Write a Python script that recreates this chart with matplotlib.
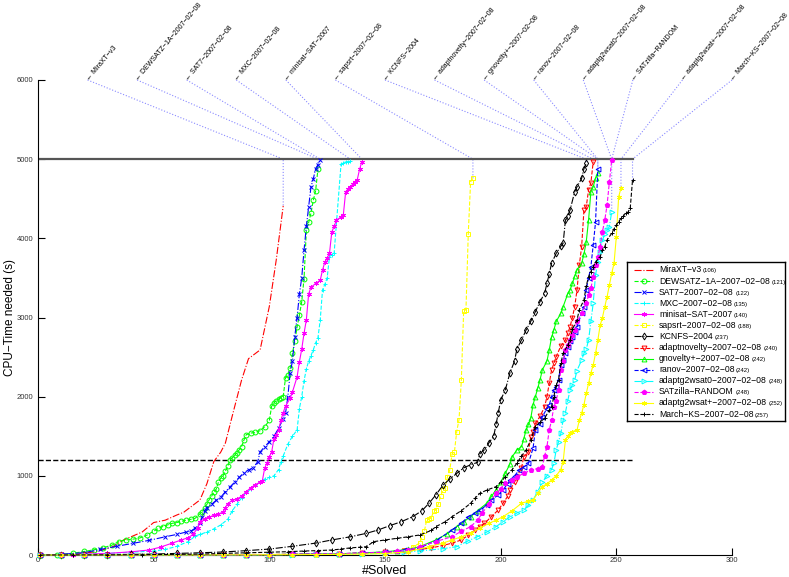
import numpy as np
import matplotlib.pyplot as plt

plt.rcParams['font.family'] = ['Liberation Sans', 'DejaVu Sans']

names = ['MiraXT-v3', 'DEWSATZ-1A-2007-02-08', 'SAT7-2007-02-08', 'MXC-2007-02-08',
         'minisat-SAT-2007', 'sapsrt-2007-02-08', 'KCNFS-2004', 'adaptnovelty-2007-02-08',
         'gnovelty+-2007-02-08', 'ranov-2007-02-08', 'adaptg2wsat0-2007-02-08',
         'SATzilla-RANDOM', 'adaptg2wsat+-2007-02-08', 'March-KS-2007-02-08']
solved = [106, 121, 122, 135, 140, 188, 237, 240, 242, 242, 248, 248, 252, 257]

# (#solved, cpu time)
mira_x = [1, 15, 25, 32, 37, 45, 50, 55, 60, 63, 70, 73, 76, 79, 81, 84, 88, 91, 96, 100, 103, 106]
mira_t = [0, 10, 40, 100, 190, 290, 410, 440, 505, 540, 695, 900, 1180, 1300, 1414, 1760, 2210,
          2480, 2590, 3140, 3730, 4410]

dews_x = [1, 8, 15, 20, 24, 28, 32, 35, 38, 41, 44, 47, 50, 52, 54, 56, 58, 60, 62, 64, 66, 68, 70,
          71, 72, 73, 74, 75, 76, 77, 78, 79, 80, 81, 82, 83, 84, 85, 86, 87, 88, 89, 90, 92, 94, 96,
          98, 100, 101, 102, 103, 104, 105, 106, 107, 108, 109, 110, 111, 112, 113, 114, 115, 116,
          117, 118, 119, 120, 121]
dews_t = [0, 5, 20, 45, 65, 90, 125, 170, 190, 200, 215, 250, 300, 335, 360, 380, 400, 410, 425,
          440, 450, 465, 520, 545, 600, 640, 700, 740, 790, 830, 920, 970, 1000, 1060, 1120, 1200,
          1230, 1260, 1290, 1330, 1370, 1450, 1520, 1540, 1550, 1570, 1620, 1700, 1880, 1920, 1950,
          1970, 1985, 2000, 2240, 2270, 2360, 2550, 2700, 2880, 3030, 3200, 3490, 4100, 4200, 4320,
          4480, 4600, 4870]

sat7_x = [1, 10, 20, 27, 34, 41, 48, 55, 60, 64, 66, 68, 70, 71, 72, 73, 75, 77, 79, 81, 83, 85,
          87, 89, 91, 93, 95, 96, 98, 100, 102, 104, 106, 107, 108, 109, 110, 111, 112, 113, 114,
          115, 116, 117, 118, 119, 120, 121, 122]
sat7_t = [0, 8, 30, 70, 110, 147, 185, 230, 260, 290, 300, 340, 400, 480, 560, 600, 640, 690, 730,
          800, 860, 920, 980, 1040, 1075, 1100, 1180, 1300, 1370, 1430, 1500, 1600, 1720, 1790,
          2000, 2300, 2450, 2760, 3000, 3300, 3500, 3850, 4150, 4400, 4650, 4750, 4880, 4930, 4990]

mxc_x = [1, 15, 30, 40, 50, 55, 60, 65, 68, 70, 73, 76, 79, 82, 84, 86, 88, 90, 92, 94, 96, 98,
         100, 102, 104, 105, 106, 108, 110, 112, 113, 114, 115, 116, 117, 118, 119, 120, 121, 122,
         123, 124, 125, 126, 127, 128, 131, 132, 133, 134, 135]
mxc_t = [0, 5, 20, 35, 50, 70, 110, 170, 240, 260, 290, 330, 380, 450, 560, 640, 720, 790, 830,
         880, 920, 960, 980, 1000, 1080, 1180, 1250, 1400, 1500, 1580, 1850, 2000, 2200, 2350,
         2450, 2520, 2590, 2680, 2740, 2970, 3350, 3420, 3500, 3770, 3790, 3810, 4940, 4955, 4965,
         4970, 4975]

mini_x = [1, 15, 30, 40, 48, 53, 58, 62, 65, 67, 69, 70, 72, 74, 76, 78, 80, 81, 82, 84, 86, 88,
          90, 92, 94, 96, 97, 98, 99, 100, 101, 102, 103, 104, 105, 106, 107, 109, 110, 112, 113,
          114, 115, 116, 117, 118, 120, 122, 123, 124, 125, 126, 127, 128, 129, 131, 132, 133, 134,
          135, 136, 137, 138, 139, 140]
mini_t = [0, 5, 20, 40, 63, 100, 150, 190, 220, 260, 340, 420, 460, 480, 500, 520, 540, 600, 650,
          690, 710, 740, 800, 850, 890, 920, 940, 1100, 1160, 1240, 1300, 1470, 1520, 1580, 1700,
          1800, 1880, 1980, 2060, 2250, 2440, 2600, 2800, 2970, 3300, 3380, 3430, 3470, 3600, 3700,
          3750, 3810, 4080, 4150, 4230, 4270, 4300, 4590, 4620, 4650, 4680, 4715, 4740, 4870, 4970]

saps_x = [1, 10, 20, 30, 40, 50, 60, 70, 80, 90, 100, 110, 120, 130, 140, 150, 158, 162, 165, 166,
          167, 168, 169, 170, 171, 172, 173, 174, 175, 176, 177, 178, 179, 180, 181, 182, 183, 184,
          185, 186, 187, 188]
saps_t = [0, 1, 1, 1, 2, 3, 4, 5, 6, 7, 8, 10, 12, 15, 20, 30, 60, 100, 150, 230, 300, 440, 450,
          470, 550, 570, 640, 740, 820, 850, 990, 1074, 1280, 1300, 1560, 1710, 2210, 3080, 3100,
          4060, 4715, 4757]

kcnfs_x = [1, 10, 20, 30, 40, 50, 60, 70, 80, 90, 100, 110, 120, 127, 135, 142, 147, 152, 157, 162,
           166, 169, 172, 175, 178, 181, 184, 187, 190, 191, 193, 195, 197, 198, 199, 200, 202, 204,
           206, 207, 209, 211, 213, 215, 217, 219, 220, 221, 222, 224, 226, 227, 228, 229, 230, 232,
           233, 235, 236, 237]
kcnfs_t = [0, 2, 3, 5, 8, 12, 20, 28, 38, 55, 75, 110, 150, 190, 230, 274, 316, 370, 420, 484, 560,
           653, 760, 880, 960, 1030, 1100, 1140, 1170, 1280, 1330, 1420, 1500, 1650, 1800, 1958,
           2084, 2300, 2450, 2600, 2716, 2842, 2950, 3073, 3200, 3305, 3431, 3550, 3684, 3810, 3900,
           3937, 4231, 4280, 4357, 4589, 4650, 4757, 4880, 4947]

anov_x = [1, 10, 20, 30, 40, 50, 60, 70, 80, 90, 100, 110, 120, 130, 140, 150, 158, 165, 170, 175,
          179, 183, 186, 189, 191, 193, 196, 199, 201, 203, 204, 206, 207, 209, 210, 212, 213, 214,
          215, 217, 219, 220, 221, 222, 223, 224, 226, 228, 229, 230, 231, 232, 233, 234, 235, 236,
          237, 238, 239, 240]
anov_t = [0, 1, 1, 1, 1, 2, 2, 3, 3, 4, 5, 8, 12, 15, 25, 35, 50, 70, 90, 120, 150, 190, 250, 316,
          360, 400, 484, 570, 653, 740, 821, 920, 989, 1100, 1242, 1300, 1494, 1550, 1663, 1750,
          1873, 2000, 2168, 2337, 2420, 2505, 2640, 2715, 2800, 2884, 3000, 3136, 3347, 3663, 3894,
          4357, 4400, 4610, 4700, 4968]

gnov_x = [1, 10, 20, 30, 40, 50, 60, 70, 80, 90, 100, 110, 120, 130, 140, 150, 155, 160, 165, 172,
          177, 181, 184, 187, 190, 194, 196, 198, 200, 202, 204, 205, 207, 209, 210, 211, 212, 213,
          214, 215, 216, 217, 218, 220, 221, 222, 223, 224, 226, 227, 229, 230, 231, 232, 233, 235,
          236, 237, 238, 239, 240, 241, 242]
gnov_t = [0, 1, 1, 1, 1, 2, 2, 3, 3, 4, 5, 8, 12, 16, 25, 40, 55, 70, 105, 190, 270, 358, 420, 484,
          560, 653, 740, 821, 920, 1032, 1150, 1242, 1326, 1368, 1470, 1579, 1650, 1726, 1900, 2000,
          2105, 2210, 2337, 2450, 2589, 2750, 2842, 2950, 3052, 3136, 3300, 3347, 3431, 3520, 3600,
          3684, 3800, 3957, 4231, 4589, 4650, 4757, 4820]

ranov_x = [1, 10, 20, 30, 40, 50, 60, 70, 80, 90, 100, 110, 120, 130, 140, 150, 158, 165, 172, 179,
           183, 186, 189, 191, 194, 196, 199, 201, 203, 204, 206, 208, 210, 212, 214, 215, 217, 218,
           220, 221, 222, 223, 224, 225, 226, 227, 228, 229, 230, 231, 232, 233, 235, 236, 237, 238,
           239, 240, 241, 242]
ranov_t = [0, 1, 1, 1, 1, 2, 2, 3, 3, 4, 5, 8, 12, 15, 25, 35, 60, 90, 180, 316, 400, 484, 530,
           568, 630, 695, 760, 821, 900, 947, 1000, 1074, 1110, 1158, 1350, 1579, 1650, 1747, 1850,
           1895, 2000, 2084, 2126, 2210, 2400, 2463, 2550, 2631, 2700, 2757, 2820, 2884, 3052, 3136,
           3347, 3500, 3641, 3915, 4200, 4870]

ag0_x = [1, 10, 20, 30, 40, 50, 60, 70, 80, 90, 100, 110, 120, 130, 140, 150, 158, 165, 175, 181,
         186, 190, 194, 198, 201, 204, 207, 210, 212, 214, 216, 218, 220, 222, 223, 224, 225, 226,
         227, 228, 229, 230, 231, 232, 233, 235, 236, 237, 238, 239, 240, 241, 242, 243, 244, 245,
         246, 247, 248]
ag0_t = [0, 0, 1, 1, 1, 1, 1, 2, 2, 2, 3, 5, 7, 10, 15, 20, 35, 50, 80, 105, 180, 232, 290, 358,
         420, 484, 530, 568, 630, 695, 800, 920, 1000, 1080, 1158, 1326, 1430, 1537, 1700, 1800,
         1950, 2084, 2150, 2210, 2330, 2463, 2547, 2600, 2715, 2950, 3179, 3536, 3700, 3831, 3978,
         4050, 4105, 4147, 4336]

zilla_x = [1, 10, 20, 30, 40, 50, 60, 70, 80, 90, 100, 110, 120, 130, 140, 150, 155, 160, 165, 172,
           179, 183, 187, 190, 192, 195, 198, 200, 202, 205, 207, 210, 213, 216, 218, 219, 220, 221,
           222, 223, 224, 225, 226, 227, 228, 229, 230, 231, 232, 233, 235, 237, 238, 239, 240, 241,
           242, 243, 244, 245, 246, 247, 248]
zilla_t = [0, 1, 1, 1, 1, 2, 2, 3, 3, 4, 5, 8, 12, 16, 25, 35, 45, 60, 105, 170, 232, 300, 358, 440,
           527, 650, 779, 840, 905, 950, 989, 1030, 1074, 1090, 1116, 1250, 1368, 1579, 1700, 1873,
           1950, 2084, 2337, 2450, 2589, 2650, 2715, 2780, 2842, 2950, 3052, 3179, 3280, 3368, 3515,
           3663, 3768, 3894, 4084, 4231, 4420, 4715, 4989]

agp_x = [1, 10, 20, 30, 40, 50, 60, 70, 80, 90, 100, 110, 120, 130, 140, 150, 160, 169, 175, 179,
         183, 187, 191, 195, 198, 201, 205, 209, 212, 214, 216, 218, 220, 222, 224, 226, 227, 228,
         229, 230, 231, 233, 234, 235, 236, 237, 238, 239, 240, 241, 242, 243, 244, 245, 246, 247,
         248, 249, 250, 251, 252]
agp_t = [0, 0, 1, 1, 1, 1, 1, 1, 2, 2, 3, 4, 6, 8, 12, 18, 40, 105, 150, 190, 230, 274, 340, 400,
         440, 484, 560, 653, 680, 695, 780, 863, 900, 947, 1000, 1080, 1180, 1452, 1500, 1537, 1560,
         1579, 1700, 1790, 1900, 2042, 2168, 2300, 2400, 2547, 2715, 2900, 3000, 3136, 3263, 3410,
         3557, 3684, 4020, 4526, 4631]

march_x = [1, 15, 30, 45, 60, 70, 80, 90, 100, 108, 115, 121, 127, 131, 135, 139, 142, 145, 150,
           155, 160, 165, 170, 172, 176, 179, 183, 187, 189, 191, 194, 198, 200, 202, 205, 207, 209,
           211, 213, 215, 217, 219, 221, 222, 223, 224, 225, 226, 227, 229, 230, 231, 233, 234, 236,
           237, 238, 239, 240, 241, 243, 244, 245, 246, 248, 249, 250, 251, 252, 253, 254, 255, 256,
           257]
march_t = [0, 1, 2, 4, 8, 12, 20, 28, 35, 42, 50, 56, 63, 75, 90, 98, 105, 168, 190, 210, 230, 253,
           310, 358, 420, 484, 560, 653, 720, 779, 820, 863, 920, 989, 1080, 1158, 1250, 1326, 1452,
           1621, 1680, 1726, 1831, 1873, 2000, 2150, 2210, 2421, 2547, 2650, 2716, 2850, 2968, 3100,
           3221, 3400, 3515, 3580, 3641, 3700, 3768, 3850, 3894, 3980, 4063, 4120, 4168, 4210, 4252,
           4280, 4315, 4330, 4378, 4736]

xs = [mira_x, dews_x, sat7_x, mxc_x, mini_x, saps_x, kcnfs_x, anov_x, gnov_x, ranov_x, ag0_x,
      zilla_x, agp_x, march_x]
ts = [mira_t, dews_t, sat7_t, mxc_t, mini_t, saps_t, kcnfs_t, anov_t, gnov_t, ranov_t, ag0_t,
      zilla_t, agp_t, march_t]

RED, GREEN, BLUE = '#ff0000', '#00ff00', '#0000ff'
CYAN, MAGENTA, YELLOW, BLACK = '#00ffff', '#ff00ff', '#ffff00', '#000000'
asterisk = (6, 2, 0)
# color, linestyle, marker, filled
styles = [(RED, '-.', None, False),
          (GREEN, '--', 'o', False),
          (BLUE, '-.', 'x', False),
          (CYAN, '--', '+', False),
          (MAGENTA, '-', asterisk, True),
          (YELLOW, '--', 's', False),
          (BLACK, '-.', 'd', False),
          (RED, '--', 'v', False),
          (GREEN, '-', '^', False),
          (BLUE, '--', '<', False),
          (CYAN, '-.', '>', False),
          (MAGENTA, '--', 'p', True),
          (YELLOW, '-', asterisk, True),
          (BLACK, '--', '+', False)]

W, H = 789, 577
fig = plt.figure(figsize=(W / 100, H / 100), dpi=100)
ax = fig.add_axes([38 / W, 22 / H, 694 / W, 475 / H])

for i in range(len(names)):
    col, ls, mk, filled = styles[i]
    ax.plot(xs[i], ts[i], color=col, linestyle=ls, marker=mk, markersize=3.5,
            markeredgewidth=0.7, markerfacecolor=col if filled else 'none',
            linewidth=0.8, clip_on=False, zorder=3)

nmax = max(solved)
ax.plot([0, nmax], [5000, 5000], color='#555555', linewidth=1.6, zorder=2)
ax.plot([0, nmax], [1200, 1200], color='k', linestyle='--', linewidth=1.0, zorder=2)

# labels at the top with dotted connectors to the end of each curve
for i, name in enumerate(names):
    lx = 300 * (i + 1) / 14
    ax.plot([lx, solved[i], solved[i]], [6000, 5000, ts[i][-1]], linestyle=':',
            color='#8a8aff', linewidth=0.8, clip_on=False, zorder=1)
    ax.text(lx, 6000, '\u2190 ' + name.replace('-', '\u2212'), rotation=50,
            rotation_mode='anchor', ha='left', va='center', fontsize=5, clip_on=False)

ax.set_xlim(0, 300)
ax.set_ylim(0, 6000)
ax.set_xticks(range(0, 301, 50))
ax.set_yticks(range(0, 6001, 1000))
ax.spines['top'].set_visible(False)
ax.spines['right'].set_visible(False)
ax.tick_params(direction='in', length=5, width=0.8, labelsize=5.5, labelcolor='#333333')
ax.tick_params(axis='x', pad=1.5)
ax.set_xlabel('#Solved', fontsize=9)
ax.xaxis.set_label_coords(0.5, -0.022)
ax.set_ylabel('CPU\u2212Time needed (s)', fontsize=8.5)
ax.yaxis.set_label_coords(-0.032, 0.5)

# legend box drawn by hand so the solved counts can be in a smaller font
lax = fig.add_axes([627 / W, 1 - 421 / H, 158 / W, 159 / H])
lax.set_xlim(0, 158)
lax.set_ylim(159, 0)
lax.set_xticks([])
lax.set_yticks([])
for s in lax.spines.values():
    s.set_linewidth(1.0)
    s.set_color('k')

renderer = fig.canvas.get_renderer()
for i, name in enumerate(names):
    col, ls, mk, filled = styles[i]
    yy = 8 + i * 11.08
    lax.plot([7, 26], [yy, yy], color=col, linestyle=ls, linewidth=0.8)
    if mk is not None:
        lax.plot([16.5], [yy], color=col, marker=mk, markersize=3.5, markeredgewidth=0.7,
                 markerfacecolor=col if filled else 'none')
    t = lax.text(32, yy + 2.5, name.replace('-', '\u2212'), fontsize=6.2, va='baseline')
    bb = t.get_window_extent(renderer)
    xend = lax.transData.inverted().transform((bb.x1, bb.y0))[0]
    lax.text(xend + 1.5, yy + 2.5, '(%d)' % solved[i], fontsize=4.3, va='baseline')

fig.savefig('out.png', dpi=100)
